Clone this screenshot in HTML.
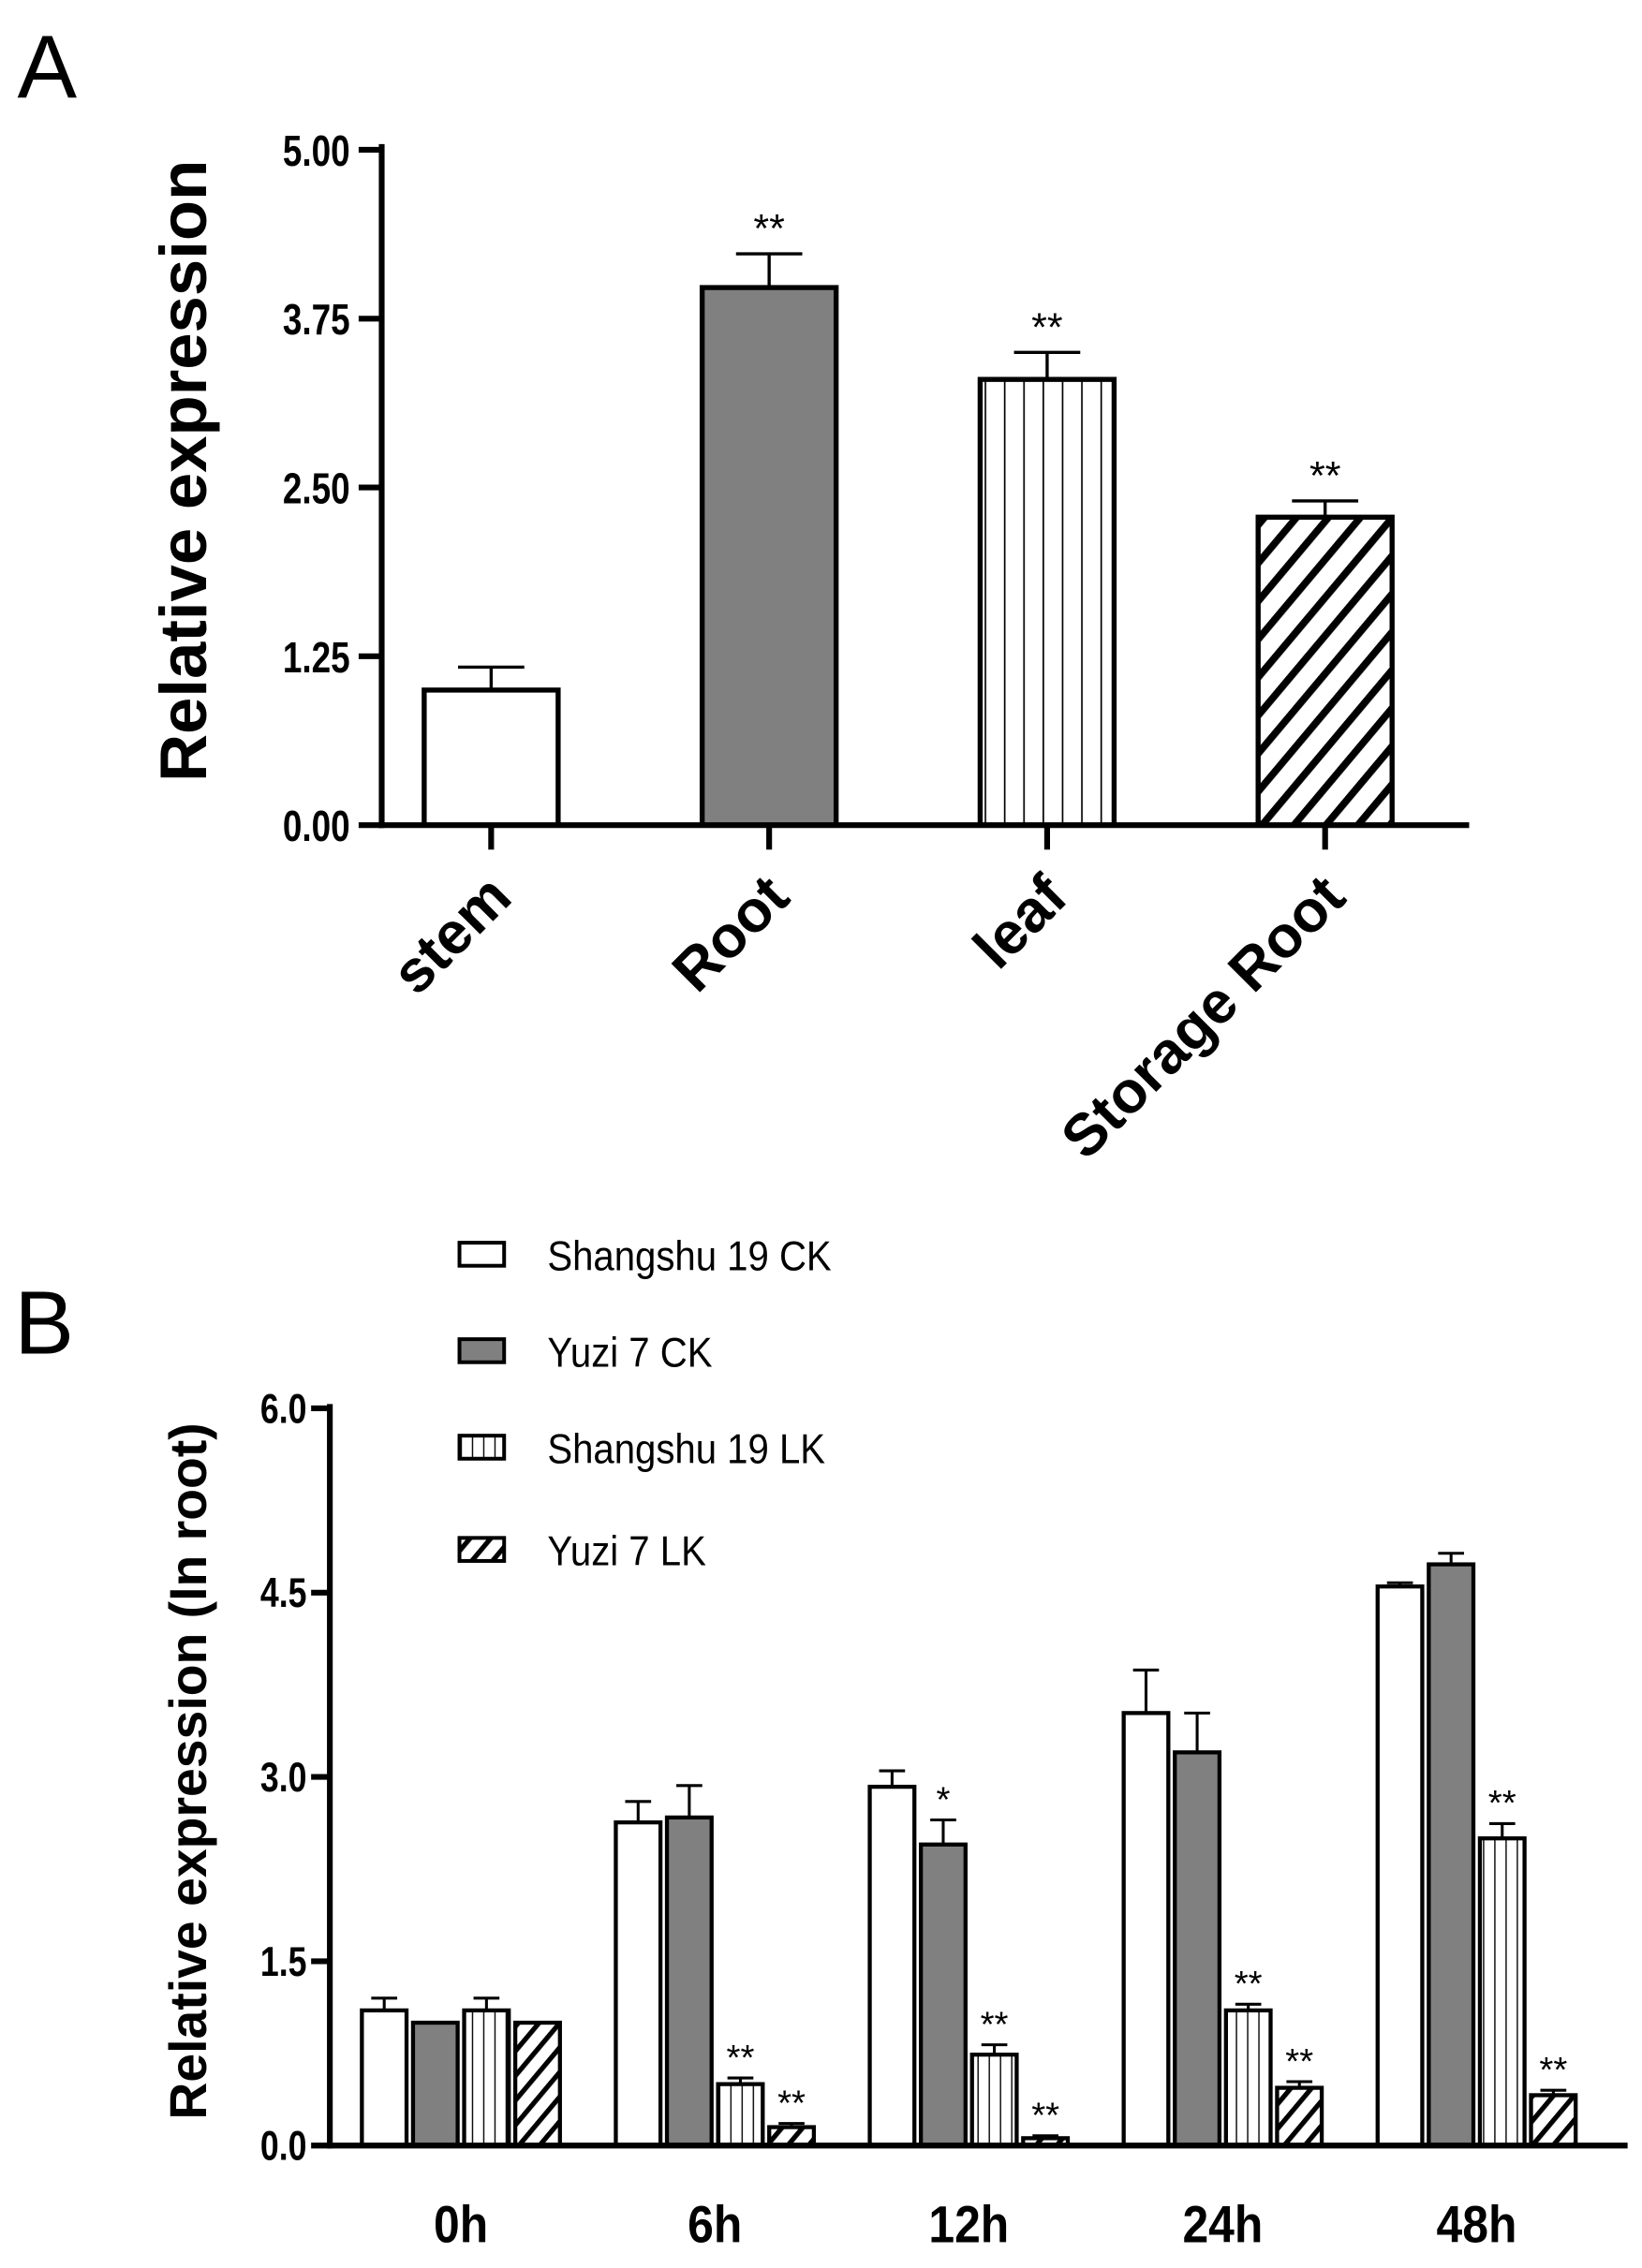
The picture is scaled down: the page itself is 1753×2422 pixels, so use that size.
<!DOCTYPE html>
<html><head><meta charset="utf-8"><style>
html,body{margin:0;padding:0;background:#fff;}
svg{display:block;}
text{font-family:"Liberation Sans",Arial,sans-serif;fill:#000;}
</style></head><body>
<svg id="fig" width="1753" height="2422" viewBox="0 0 1140 1575" xmlns="http://www.w3.org/2000/svg">
<defs>
<pattern id="vstripeA" patternUnits="userSpaceOnUse" width="13.4" height="10" x="295"><rect width="13.4" height="10" fill="#fff"/><line x1="0" y1="0" x2="0" y2="10" stroke="#000" stroke-width="2.2"/></pattern>
<pattern id="vstripeB" patternUnits="userSpaceOnUse" width="7.8" height="10"><rect width="7.8" height="10" fill="#fff"/><line x1="0" y1="0" x2="0" y2="10" stroke="#000" stroke-width="1.8"/></pattern>
<pattern id="diagA" patternUnits="userSpaceOnUse" width="17" height="17" patternTransform="rotate(-50)"><rect width="17" height="17" fill="#fff"/><rect x="0" y="0" width="17" height="5" fill="#000"/></pattern>
<pattern id="diagB" patternUnits="userSpaceOnUse" width="11" height="11" patternTransform="rotate(-50)"><rect width="11" height="11" fill="#fff"/><rect x="0" y="0" width="11" height="3.4" fill="#000"/></pattern>
</defs>
<text x="12" y="68" font-size="62">A</text>
<text x="10" y="940" font-size="62">B</text>
<g id="chartA"></g>
<g id="chartB"></g>
</svg>
<script>
const NS="http://www.w3.org/2000/svg";
// ---- Panel A data ----
const tissueCategories=["stem","Root","leaf","Storage Root"];
const tissueValues=[1.0,3.98,3.3,2.28];
const tissueErrors=[0.17,0.25,0.2,0.12];
const tissueSig=["","**","**","**"];
const tissueTicks=["0.00","1.25","2.50","3.75","5.00"];
// ---- Panel B data ----
const timeCategories=["0h","6h","12h","24h","48h"];
const seriesNames=["Shangshu 19 CK","Yuzi 7 CK","Shangshu 19 LK","Yuzi 7 LK"];
const sh19CK=[1.1,2.63,2.92,3.52,4.55];
const yz7CK=[1.0,2.67,2.45,3.2,4.73];
const sh19LK=[1.1,0.5,0.74,1.1,2.5];
const yz7LK=[1.0,0.15,0.06,0.47,0.41];
const sh19CKerr=[0.1,0.17,0.13,0.35,0.03];
const yz7CKerr=[0,0.26,0.2,0.32,0.09];
const sh19LKerr=[0.1,0.05,0.08,0.05,0.12];
const yz7LKerr=[0,0.03,0.02,0.05,0.04];
const sh19CKsig=["","","","",""];
const yz7CKsig=["","","*","",""];
const sh19LKsig=["","**","**","**","**"];
const yz7LKsig=["","**","**","**","**"];
const timeTicks=["0.0","1.5","3.0","4.5","6.0"];

function el(tag,attrs,parent){const e=document.createElementNS(NS,tag);for(const k in attrs)e.setAttribute(k,attrs[k]);parent.appendChild(e);return e;}

// Panel A
(function(){
  const g=document.getElementById('chartA');
  const x0=265,x1=1020,y0=573,yTop=104,maxV=5;
  const yA=v=>y0-(v/maxV)*(y0-yTop);
  const step=193,first=341,bw=93;
  const xA=i=>first+i*step;
  const fills=["#fff","#808080","url(#vstripeA)","url(#diagA)"];
  tissueValues.forEach((v,i)=>{
    const cx=xA(i);
    const e=el('line',{x1:cx,x2:cx,y1:yA(v),y2:yA(v+tissueErrors[i]),stroke:'#000','stroke-width':2.2},g);
    
    
    const c=el('line',{x1:cx-23,x2:cx+23,y1:yA(v+tissueErrors[i]),y2:yA(v+tissueErrors[i]),stroke:'#000','stroke-width':2.2},g);
    
    
    const r=el('rect',{x:cx-bw/2,y:yA(v),width:bw,height:y0-yA(v),fill:fills[i],stroke:'#000','stroke-width':3.5},g);
    
    
    if(tissueSig[i]){const t=el('text',{x:cx,y:yA(v+tissueErrors[i])-8,'font-size':28,'text-anchor':'middle'},g);t.textContent=tissueSig[i];
      
      }
    const tk=el('line',{x1:cx,x2:cx,y1:y0,y2:y0+17,stroke:'#000','stroke-width':4},g);
    
    
    const lab=el('text',{x:0,y:0,'font-size':41,'font-weight':'bold','text-anchor':'end',transform:`translate(${cx+16},${y0+52}) rotate(-45)`},g);
    lab.textContent=tissueCategories[i];
    
    
  });
  tissueTicks.forEach((t,i)=>{
    const v=parseFloat(t),y=yA(v);
    const tk=el('line',{x1:x0-16,x2:x0,y1:y,y2:y,stroke:'#000','stroke-width':4},g);
    
    
    const lab=el('text',{x:0,y:0,'font-size':30,'font-weight':'bold','text-anchor':'end',transform:`translate(${x0-22},${y+11}) scale(0.8,1)`},g);
    lab.textContent=t;
    
    
  });
  const ax=el('line',{x1:x0,x2:x0,y1:yTop-4,y2:y0+2,stroke:'#000','stroke-width':4},g);
  
  
  const axx=el('line',{x1:x0-2,x2:x1,y1:y0,y2:y0,stroke:'#000','stroke-width':4},g);
  
  
  const yt=el('text',{x:0,y:0,'font-size':46,'font-weight':'bold','text-anchor':'middle',transform:`translate(143,327) rotate(-90)`},g);
  yt.textContent="Relative expression";
  
  
})();

// Panel B
(function(){
  const g=document.getElementById('chartB');
  const x0=229,x1=1130,y0=1490,yTop=978,maxV=6;
  const yB=v=>y0-(v/maxV)*(y0-yTop);
  const groupStart=320,groupStep=176.3,bw=31,bstep=35.5;
  const xB=(gi,si)=>groupStart+gi*groupStep+(si-1.5)*bstep;
  const series=[sh19CK,yz7CK,sh19LK,yz7LK];
  const errs=[sh19CKerr,yz7CKerr,sh19LKerr,yz7LKerr];
  const sigs=[sh19CKsig,yz7CKsig,sh19LKsig,yz7LKsig];
  const fills=["#fff","#808080","url(#vstripeB)","url(#diagB)"];
  timeCategories.forEach((c,gi)=>{
    series.forEach((s,si)=>{
      const v=s[gi],e=errs[si][gi],cx=xB(gi,si);
      if(e>0){
        const l=el('line',{x1:cx,x2:cx,y1:yB(v),y2:yB(v+e),stroke:'#000','stroke-width':2},g);
        
        
        const cp=el('line',{x1:cx-9,x2:cx+9,y1:yB(v+e),y2:yB(v+e),stroke:'#000','stroke-width':2},g);
        
        
      }
      const r=el('rect',{x:cx-bw/2,y:yB(v),width:bw,height:y0-yB(v),fill:fills[si],stroke:'#000','stroke-width':2.8},g);
      
      
      if(sigs[si][gi]){const t=el('text',{x:cx,y:yB(v+e)-6,'font-size':25,'text-anchor':'middle'},g);t.textContent=sigs[si][gi];
        
        }
    });
    const lab=el('text',{x:0,y:0,'font-size':36,'font-weight':'bold','text-anchor':'middle',transform:`translate(${groupStart+gi*groupStep},${y0+67}) scale(0.9,1)`},g);
    lab.textContent=c;
    
    
  });
  timeTicks.forEach(t=>{
    const y=yB(parseFloat(t));
    const tk=el('line',{x1:x0-13,x2:x0,y1:y,y2:y,stroke:'#000','stroke-width':4},g);
    
    
    const lab=el('text',{x:0,y:0,'font-size':29,'font-weight':'bold','text-anchor':'end',transform:`translate(${x0-16},${y+10}) scale(0.8,1)`},g);
    lab.textContent=t;
    
    
  });
  const ax=el('line',{x1:x0,x2:x0,y1:yTop-3,y2:y0+2,stroke:'#000','stroke-width':4},g);
  
  
  const axx=el('line',{x1:x0-2,x2:x1,y1:y0,y2:y0,stroke:'#000','stroke-width':4},g);
  
  
  const yt=el('text',{x:0,y:0,'font-size':36,'font-weight':'bold','text-anchor':'middle',transform:`translate(143,1230) rotate(-90)`},g);
  yt.textContent="Relative expression (In root)";
  
  
  const legY=[871,938,1005,1076];
  seriesNames.forEach((n,i)=>{
    const r=el('rect',{x:319,y:legY[i]-8,width:31,height:16,fill:fills[i],stroke:'#000','stroke-width':2.6},g);
    
    
    const t=el('text',{x:0,y:0,'font-size':29,transform:`translate(380,${legY[i]+11}) scale(0.9,1)`},g);
    t.textContent=n;
    
    
  });
})();
</script>
</body></html>
